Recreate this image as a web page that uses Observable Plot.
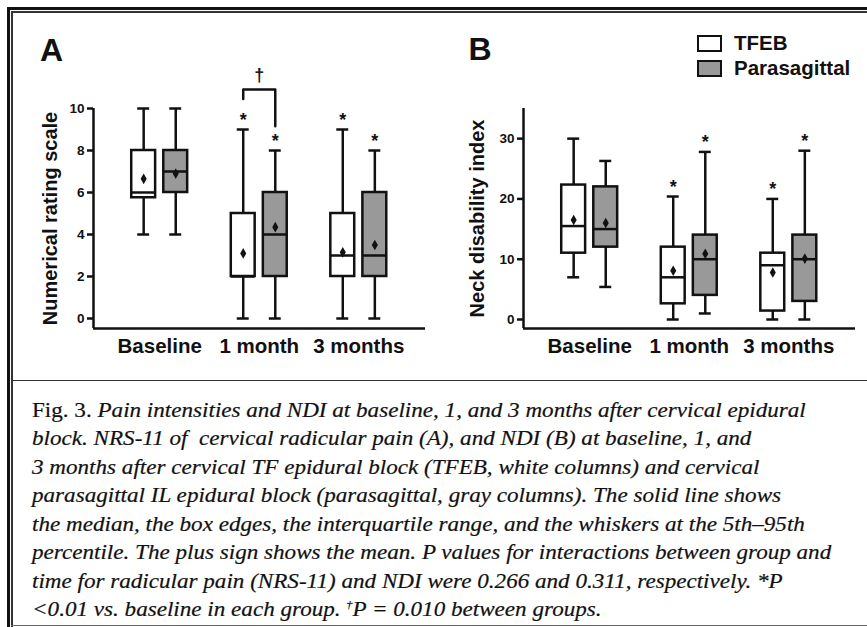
<!DOCTYPE html>
<html>
<head>
<meta charset="utf-8">
<script src="https://cdn.jsdelivr.net/npm/d3@7"></script>
<script src="https://cdn.jsdelivr.net/npm/@observablehq/plot@0.6"></script>
<style>
  html, body { margin: 0; padding: 0; background: #fff; }
  #page { position: relative; width: 867px; height: 627px; overflow: hidden; font-family: "Liberation Sans", Arial, sans-serif; color: #111; }
  .ln { position: absolute; background: #111; }
  .panel { position: absolute; top: 0; }
  .letter { position: absolute; font-size: 32px; line-height: 1; font-weight: bold; }
  .legbox { position: absolute; box-sizing: border-box; border: 2.5px solid #111; width: 25px; height: 17px; }
  .legtxt { position: absolute; font-size: 20.5px; line-height: 1; font-weight: bold; white-space: nowrap; }
  #caption { position: absolute; left: 32px; top: 395.7px; font-family: "Liberation Serif", "Times New Roman", serif; font-size: 21px; line-height: 28.5px; white-space: nowrap; color: #111; transform: scaleX(1.1); transform-origin: 0 0; -webkit-text-stroke: 0.2px #111; }
  #caption i { font-style: italic; }
  sup { font-size: 11px; vertical-align: 8px; line-height: 0; }
</style>
</head>
<body>
<div id="page">
  <div class="ln" style="left:7px;top:7px;width:3px;height:620px;"></div>
  <div class="ln" style="left:11px;top:11px;width:1.5px;height:616px;background:#333;"></div>
  <div class="ln" style="left:7px;top:7px;width:860px;height:3px;"></div>
  <div class="ln" style="left:11px;top:11px;width:856px;height:1.5px;background:#333;"></div>
  <div class="ln" style="left:11px;top:379.5px;width:856px;height:1.5px;background:#333;"></div>
  <div class="ln" style="left:11px;top:624.5px;width:856px;height:1.5px;background:#666;"></div>

  <div id="panelA" class="panel" style="left:0px;"></div>
  <div id="panelB" class="panel" style="left:430px;"></div>

  <div class="letter" style="left:40px;top:33.8px;">A</div>
  <div class="letter" style="left:468.5px;top:33.3px;">B</div>

  <div class="legbox" style="left:697px;top:35px;background:#fff;"></div>
  <div class="legbox" style="left:697px;top:60px;background:#999;"></div>
  <div class="legtxt" id="leg0" style="left:734px;top:33px;"></div>
  <div class="legtxt" id="leg1" style="left:734px;top:58px;"></div>

  <div id="caption">Fig. 3. <i>Pain intensities and NDI at baseline, 1, and 3 months after cervical epidural</i><br><i>block. NRS-11 of&nbsp; cervical radicular pain (A), and NDI (B) at baseline, 1, and</i><br><i>3 months after cervical TF epidural block (TFEB, white columns) and cervical</i><br><i>parasagittal IL epidural block (parasagittal, gray columns). The solid line shows</i><br><i>the median, the box edges, the interquartile range, and the whiskers at the 5th–95th</i><br><i>percentile. The plus sign shows the mean. P values for interactions between group and</i><br><i>time for radicular pain (NRS-11) and NDI were 0.266 and 0.311, respectively. *P</i><br><i>&lt;0.01 vs. baseline in each group. <sup>†</sup>P = 0.010 between groups.</i></div>
</div>

<script>
// ---------- data ----------
const groups = ["Baseline", "1 month", "3 months"];
const seriesNames = ["TFEB", "Parasagittal"];

// Panel A: Numerical rating scale (NRS-11)
const nrsTfebLow    = [4, 0, 0];
const nrsTfebQ1     = [5.75, 2, 2];
const nrsTfebMedian = [6, 2, 3];
const nrsTfebQ3     = [8, 5, 5];
const nrsTfebHigh   = [10, 9, 9];
const nrsTfebMean   = [6.65, 3.1, 3.15];

const nrsParaLow    = [4, 0, 0];
const nrsParaQ1     = [6, 2, 2];
const nrsParaMedian = [7, 4, 3];
const nrsParaQ3     = [8, 6, 6];
const nrsParaHigh   = [10, 8, 8];
const nrsParaMean   = [6.9, 4.35, 3.5];

// Panel B: Neck disability index
const ndiTfebLow    = [7, 0, 0];
const ndiTfebQ1     = [11, 2.6, 1.4];
const ndiTfebMedian = [15.5, 7, 9];
const ndiTfebQ3     = [22.3, 12, 11];
const ndiTfebHigh   = [30, 20.4, 20];
const ndiTfebMean   = [16.5, 8.1, 7.8];

const ndiParaLow    = [5.4, 1, 0];
const ndiParaQ1     = [12, 4, 3];
const ndiParaMedian = [15, 10, 10];
const ndiParaQ3     = [22, 14, 14];
const ndiParaHigh   = [26.3, 27.8, 28];
const ndiParaMean   = [16, 10.9, 10.1];

// significance vs baseline (*), per group
const significantGroups = ["1 month", "3 months"];
// between-group bracket (†) in panel A at 1 month: [left leg end, bar level, right leg end, dagger level]
const bracketGroup = "1 month";
const bracketLevels = [10.45, 10.9, 9.15, 11.6];

const yTicksA = [0, 2, 4, 6, 8, 10];
const yTicksB = [0, 10, 20, 30];
const yLabelA = "Numerical rating scale";
const yLabelB = "Neck disability index";

// ---------- build ----------
const fills = ["#ffffff", "#999999"];
const ink = "#111";
const sw = 2.5;
const offset = 0.161, halfBox = 0.12, halfCap = 0.06;

function rowsFor(tfeb, para) {
  const rows = [];
  groups.forEach((g, gi) => {
    [tfeb, para].forEach((s, si) => {
      rows.push({
        group: g, series: seriesNames[si],
        pos: gi + (si === 0 ? -offset : offset),
        low: s[0][gi], q1: s[1][gi], med: s[2][gi], q3: s[3][gi], high: s[4][gi], mean: s[5][gi]
      });
    });
  });
  return rows;
}

const rowsA = rowsFor(
  [nrsTfebLow, nrsTfebQ1, nrsTfebMedian, nrsTfebQ3, nrsTfebHigh, nrsTfebMean],
  [nrsParaLow, nrsParaQ1, nrsParaMedian, nrsParaQ3, nrsParaHigh, nrsParaMean]);
const rowsB = rowsFor(
  [ndiTfebLow, ndiTfebQ1, ndiTfebMedian, ndiTfebQ3, ndiTfebHigh, ndiTfebMean],
  [ndiParaLow, ndiParaQ1, ndiParaMedian, ndiParaQ3, ndiParaHigh, ndiParaMean]);

function boxMarks(rows) {
  return [
    Plot.ruleX(rows, {x: "pos", y1: "low", y2: "q1", stroke: ink, strokeWidth: sw}),
    Plot.ruleX(rows, {x: "pos", y1: "q3", y2: "high", stroke: ink, strokeWidth: sw}),
    Plot.ruleY(rows, {y: "low", x1: d => d.pos - halfCap, x2: d => d.pos + halfCap, stroke: ink, strokeWidth: sw}),
    Plot.ruleY(rows, {y: "high", x1: d => d.pos - halfCap, x2: d => d.pos + halfCap, stroke: ink, strokeWidth: sw}),
    Plot.rect(rows, {x1: d => d.pos - halfBox, x2: d => d.pos + halfBox, y1: "q1", y2: "q3", fill: "series", stroke: ink, strokeWidth: sw}),
    Plot.ruleY(rows, {y: "med", x1: d => d.pos - halfBox, x2: d => d.pos + halfBox, stroke: ink, strokeWidth: sw}),
    Plot.dot(rows, {x: "pos", y: "mean", symbol: "diamond", r: 3.2, fill: ink, stroke: "none"}),
    Plot.dot(rows, {x: "pos", y: "mean", symbol: "plus", r: 3.2, fill: ink, stroke: "none"}),
    Plot.text(rows.filter(d => significantGroups.includes(d.group)), {x: "pos", y: "high", text: () => "*", dy: -9.5, fontSize: 18, fontWeight: "bold", fill: ink})
  ];
}

function panel(rows, yDomain, yRange, yTicks, yLabel, axisDy, extra, labelDx) {
  return Plot.plot({
    width: 430, height: 380,
    marginLeft: 93, marginRight: 5, marginTop: 108, marginBottom: 52,
    x: {domain: [-0.665, 2.67], axis: null},
    y: {domain: yDomain, range: yRange, axis: null},
    color: {domain: seriesNames, range: fills},
    style: {fontFamily: "'Liberation Sans', Arial, sans-serif", color: ink, background: "transparent", overflow: "visible"},
    marks: [
      Plot.ruleX([-0.665], {stroke: ink, strokeWidth: sw}),
      Plot.ruleY([0], {dy: axisDy, stroke: ink, strokeWidth: sw}),
      Plot.axisY({ticks: yTicks, tickSize: 6, tickPadding: 3, fontSize: 13.5, fontWeight: "bold", stroke: ink, strokeWidth: sw, fill: ink, label: null}),
      Plot.axisX({ticks: [0, 1, 2], tickFormat: i => groups[i], tickSize: 0, tickPadding: 10, fontSize: 20.5, fontWeight: "bold", fill: ink, label: null}),
      Plot.text([yLabel], {frameAnchor: "left", textAnchor: "middle", lineAnchor: "middle", rotate: -90, dx: labelDx, fontSize: 20, fontWeight: "bold", fill: ink}),
      ...boxMarks(rows),
      ...extra
    ]
  });
}

// bracket for panel A
const bi = groups.indexOf(bracketGroup);
const bracketPts = [
  {x: bi - offset, y: bracketLevels[0]},
  {x: bi - offset, y: bracketLevels[1]},
  {x: bi + offset, y: bracketLevels[1]},
  {x: bi + offset, y: bracketLevels[2]}
];
const extraA = [
  Plot.line(bracketPts, {x: "x", y: "y", stroke: ink, strokeWidth: sw, curve: "linear"}),
  Plot.text(["†"], {x: () => bi, y: () => bracketLevels[3], fontSize: 18, fontWeight: "bold", fill: ink})
];

document.getElementById("panelA").append(panel(rowsA, [0, 10], [318, 108], yTicksA, yLabelA, 10, extraA, -43));
document.getElementById("panelB").append(panel(rowsB, [0, 35], [319, 108], yTicksB, yLabelB, 9, [], -46));

document.getElementById("leg0").textContent = seriesNames[0];
document.getElementById("leg1").textContent = seriesNames[1];
</script>
</body>
</html>
